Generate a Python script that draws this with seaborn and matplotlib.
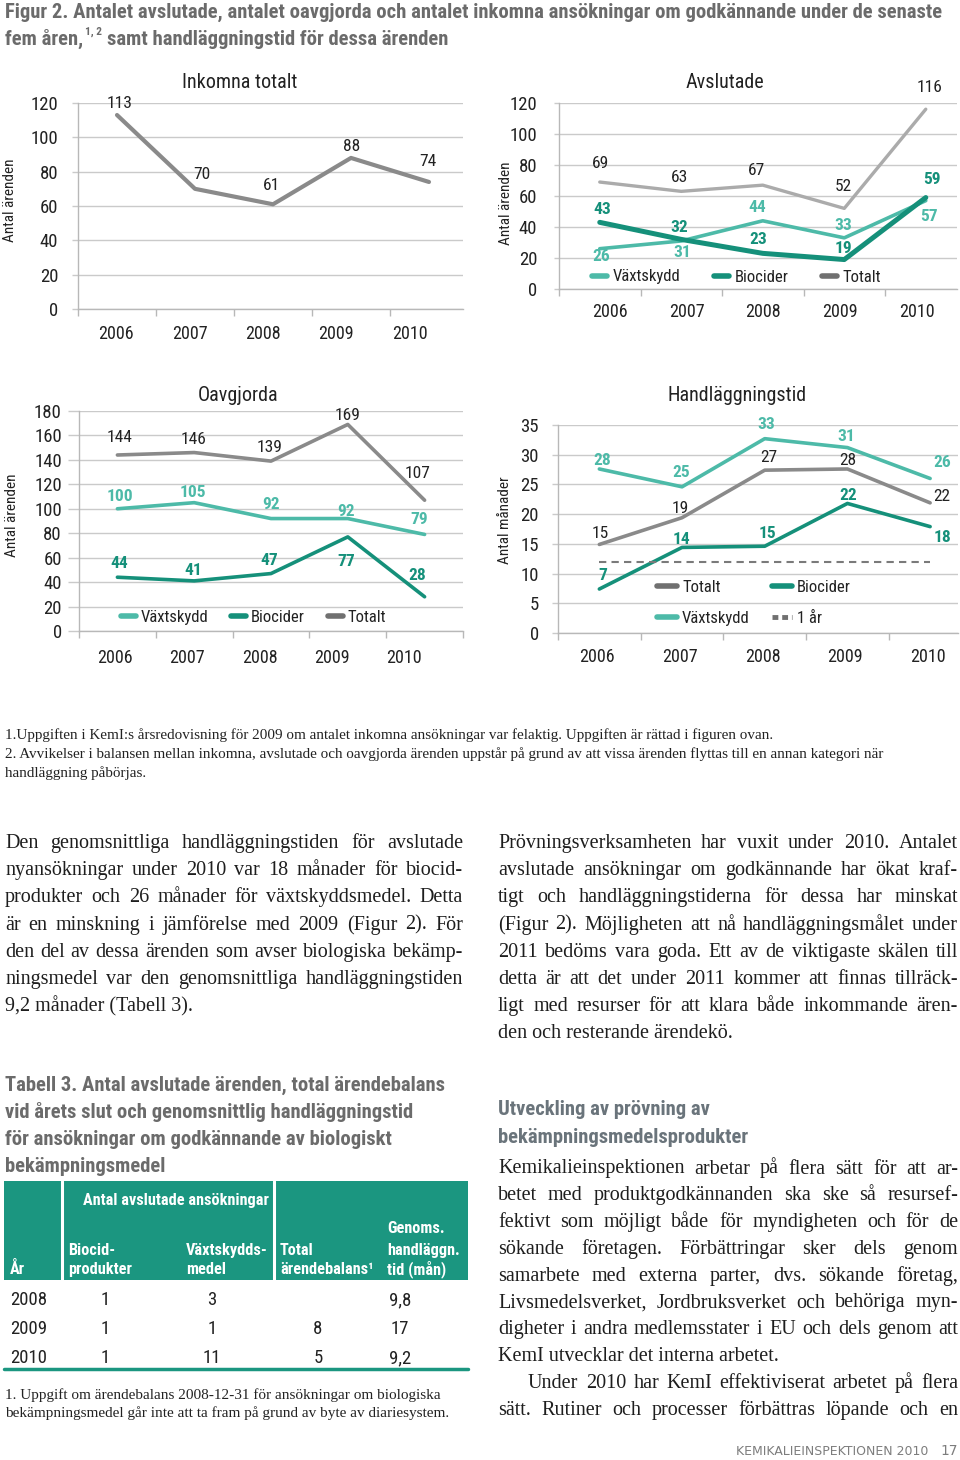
import numpy as np
import pandas as pd
import seaborn as sns
import matplotlib
matplotlib.use("Agg")
import matplotlib.pyplot as plt
import matplotlib.font_manager as fm
from matplotlib.lines import Line2D
from matplotlib.patches import Rectangle

# ---- data ----
years = [2006, 2007, 2008, 2009, 2010]

inkomna_totalt = [113, 70, 61, 88, 74]

avslutade_vaxtskydd = [26, 31, 44, 33, 57]
avslutade_biocider = [43, 32, 23, 19, 59]
avslutade_totalt = [69, 63, 67, 52, 116]

oavgjorda_vaxtskydd = [100, 105, 92, 92, 79]
oavgjorda_biocider = [44, 41, 47, 77, 28]
oavgjorda_totalt = [144, 146, 139, 169, 107]

tid_vaxtskydd = [27.6, 24.6, 32.7, 31.2, 26.0]
tid_totalt = [14.9, 19.4, 27.4, 27.6, 21.9]
tid_biocider = [7.4, 14.4, 14.6, 21.8, 17.9]
tid_ett_ar = 12

tab_years = ["2008", "2009", "2010"]
tab_biocid = ["1", "1", "1"]
tab_vaxt = ["3", "1", "11"]
tab_balans = ["", "8", "5"]
tab_tid = ["9,8", "17", "9,2"]

# ---- style ----
LIGHT = "#4dbaa8"
DARK = "#15907a"
GREY = "#8a8a8a"
GREY_LIGHT = "#ababab"
GREY_KEY = "#707070"
GRID = "#cacaca"
AXIS = "#b8b8b8"
TXT = "#222222"
HEAD = "#6b6b6b"
GREEN = "#1b9680"

sns.set_theme(style="white")

# pick a narrow sans if one is installed (the page uses a condensed grotesque)
names = {f.name for f in fm.fontManager.ttflist}
prefer = ["Liberation Sans Narrow", "Roboto Condensed", "Noto Sans Condensed",
          "Open Sans Condensed", "DejaVu Sans Condensed", "Noto Sans SemiCondensed",
          "Open Sans SemiCondensed"]
narrow = next((n for n in prefer if n in names), None)
if narrow is None:
    narrow = next((n for n in sorted(names)
                   if ("Condensed" in n or "Narrow" in n) and "Mono" not in n), "DejaVu Sans")
COND = [narrow, "DejaVu Sans"]
SERIF = ["Liberation Serif", "DejaVu Serif"]
plt.rcParams["font.family"] = COND
plt.rcParams["font.stretch"] = "condensed"

W, H = 960, 1460
fig = plt.figure(figsize=(W / 100, H / 100), dpi=100)
renderer = fig.canvas.get_renderer()


def fx(x):
    return x / W


def fy(y):
    return 1 - y / H


def measure(s, **kw):
    t = fig.text(0, 0, s, **kw)
    w = t.get_window_extent(renderer).width
    t.remove()
    return w


def fit(line, width, base, **kw):
    return base * width / measure(line, fontsize=base, **kw)


def chart(rect, xmax, ymax, ystep, ypad, ytick_len, year_start, year_step, year_pad):
    l, t, r, b = rect
    ax = fig.add_axes([fx(l), fy(b), (r - l) / W, (b - t) / H])
    ax.set_xlim(-0.5, xmax)
    ax.set_ylim(0, ymax)
    ax.set_yticks(range(0, ymax + 1, ystep))
    ax.yaxis.grid(True, color=GRID, lw=1)
    ax.set_axisbelow(True)
    sns.despine(ax=ax)
    for s in ("left", "bottom"):
        ax.spines[s].set_color(AXIS)
        ax.spines[s].set_linewidth(1)
    ax.set_xticks(np.arange(-0.5, xmax + 0.01, 1.0))
    ax.set_xticklabels([])
    ax.set_xticks([year_start + i * year_step for i in range(len(years))], minor=True)
    ax.set_xticklabels([str(y) for y in years], minor=True)
    ax.tick_params(axis="x", which="major", length=5, width=1, color=AXIS, bottom=True)
    ax.tick_params(axis="x", which="minor", length=0, pad=year_pad, labelsize=13, labelcolor=TXT)
    ax.tick_params(axis="y", length=ytick_len, width=1, color=GRID, pad=ypad,
                   labelsize=13.5, labelcolor=TXT, left=True)
    return ax


def series(ax, values, color, lw, offsets, lab_color, bold):
    df = pd.DataFrame({"x": range(len(values)), "y": values})
    sns.lineplot(data=df, x="x", y="y", ax=ax, color=color, lw=lw)
    for i, (v, (dx, dy)) in enumerate(zip(values, offsets)):
        ax.annotate(f"{round(v)}", (i, v), xytext=(dx, dy), textcoords="offset pixels",
                    ha="center", va="center", fontsize=12.5, color=lab_color,
                    fontweight="bold" if bold else "normal")
    ax.set_xlabel("")
    ax.set_ylabel("")


def legend(ax, entries, x, y, ncol, colsp, hlen, tpad, lsp=0.5):
    handles = []
    for c, ls in [(e[0], e[1]) for e in entries]:
        h = Line2D([], [], color=c, lw=4, solid_capstyle="round", dash_capstyle="butt")
        if ls == "dash":
            h.set_dashes((1.2, 0.8))
            h.set_linewidth(3.5)
        handles.append(h)
    ax.legend(handles, [e[2] for e in entries], loc="center left",
              bbox_to_anchor=(fx(x), fy(y)), bbox_transform=fig.transFigure,
              ncol=ncol, frameon=False, fontsize=12, columnspacing=colsp,
              handlelength=hlen, handletextpad=tpad, borderpad=0, borderaxespad=0,
              labelspacing=lsp, labelcolor=TXT)


def caption(x, y, s, rot=0, **kw):
    fig.text(fx(x), fy(y), s, ha="center", va="center", color=TXT, rotation=rot, **kw)


# ---- chart 1: Inkomna totalt ----
ax1 = chart((78, 103, 463, 309), 4.436, 120, 20, 10, 4.3, -0.01, 0.94, 11.5)
series(ax1, inkomna_totalt, GREY, 3.0,
       [(3, 12), (7, 14), (-1, 19), (1, 11), (-1, 20)], TXT, False)
caption(240, 82, "Inkomna totalt", fontsize=14.5)
caption(10, 200, "Antal ärenden", rot=90, fontsize=11)

# ---- chart 2: Avslutade ----
ax2 = chart((559, 103, 957, 289), 4.383, 120, 20, 12, 3.6, 0.126, 0.941, 10)
series(ax2, avslutade_totalt, GREY_LIGHT, 2.4,
       [(1, 19), (-2, 14), (-6, 15), (-1, 22), (4, 22)], TXT, False)
series(ax2, avslutade_vaxtskydd, LIGHT, 2.6,
       [(1, -8), (1, -12), (-6, 13), (-1, 12), (3, -16)], LIGHT, True)
series(ax2, avslutade_biocider, DARK, 3.6,
       [(2, 13), (-2, 12), (-5, 14), (-1, 11), (6, 18)], DARK, True)
caption(725, 82, "Avslutade", fontsize=14.5)
caption(506, 203, "Antal ärenden", rot=90, fontsize=11)
legend(ax2, [(LIGHT, "-", "Växtskydd"), (DARK, "-", "Biocider"), (GREY_KEY, "-", "Totalt")],
       592, 277, 3, 2.0, 0.9, 0.35)

# ---- chart 3: Oavgjorda ----
ax3 = chart((79, 411, 463, 631), 4.5, 180, 20, 4.3, 8, -0.03, 0.941, 13)
series(ax3, oavgjorda_totalt, GREY, 2.6,
       [(2, 17), (-1, 13), (-1, 14), (0, 9), (-7, 27)], TXT, False)
series(ax3, oavgjorda_vaxtskydd, LIGHT, 2.6,
       [(3, 12), (-1, 10), (0, 14), (-2, 7), (-5, 15)], LIGHT, True)
series(ax3, oavgjorda_biocider, DARK, 2.6,
       [(2, 14), (-1, 10), (-2, 13), (-2, -25), (-7, 21)], DARK, True)
caption(238, 395, "Oavgjorda", fontsize=14.5)
caption(12, 515, "Antal ärenden", rot=90, fontsize=11)
legend(ax3, [(LIGHT, "-", "Växtskydd"), (DARK, "-", "Biocider"), (GREY_KEY, "-", "Totalt")],
       121, 617, 3, 1.35, 0.9, 0.3)

# ---- chart 4: Handläggningstid ----
ax4 = chart((558, 425, 958, 633), 4.337, 35, 5, 9.4, 4.3, -0.025, 1.0, 11)
series(ax4, tid_vaxtskydd, LIGHT, 2.6,
       [(3, 8), (-1, 14), (2, 14), (-1, 11), (12, 16)], LIGHT, True)
series(ax4, tid_totalt, GREY, 2.6,
       [(1, 11), (-2, 9), (4, 13), (0, 8), (12, 6)], TXT, False)
series(ax4, tid_biocider, DARK, 2.6,
       [(3, 14), (-1, 8), (3, 13), (1, 8), (12, -11)], DARK, True)
sns.lineplot(x=range(len(years)), y=[tid_ett_ar] * len(years), ax=ax4, color="#7a7a7a", lw=1.5)
ax4.lines[-1].set_dashes((3.5, 2.5))
caption(737, 395, "Handläggningstid", fontsize=14.5)
caption(505, 520, "Antal månader", rot=90, fontsize=11)
legend(ax4, [(GREY_KEY, "-", "Totalt"), (LIGHT, "-", "Växtskydd"),
             (DARK, "-", "Biocider"), (GREY_KEY, "dash", "1 år")],
       657, 603, 2, 1.35, 1.2, 0.3, lsp=1.0)

# ---- figure heading ----
tkw = dict(family=COND, fontweight="bold", color=HEAD, va="baseline")
t1 = "Figur 2. Antalet avslutade, antalet oavgjorda och antalet inkomna ansökningar om godkännande under de senaste"
ts = min(fit(t1, 946, 14, **tkw), 17)
fig.text(fx(5), fy(18), t1, fontsize=ts, **tkw)
part = "fem åren,"
fig.text(fx(5), fy(45), part, fontsize=ts, **tkw)
x = 5 + measure(part, fontsize=ts, **tkw) + 2
fig.text(fx(x), fy(35), "1, 2", fontsize=ts * 0.55, **tkw)
x += measure("1, 2", fontsize=ts * 0.55, **tkw) + 5
fig.text(fx(x), fy(45), "samt handläggningstid för dessa ärenden", fontsize=ts, **tkw)

# ---- chart footnotes ----
nkw = dict(family=SERIF, fontstretch="normal", color=TXT, va="baseline")
n2 = ("2. Avvikelser i balansen mellan inkomna, avslutade och oavgjorda ärenden uppstår "
      "på grund av att vissa ärenden flyttas till en annan kategori när")
ns = fit(n2, 881, 10, **nkw)
fig.text(fx(5), fy(739), "1.Uppgiften i KemI:s årsredovisning för 2009 om antalet inkomna "
         "ansökningar var felaktig. Uppgiften är rättad i figuren ovan.", fontsize=ns, **nkw)
fig.text(fx(5), fy(758), n2, fontsize=ns, **nkw)
fig.text(fx(5), fy(777), "handläggning påbörjas.", fontsize=ns, **nkw)

# ---- body text ----
left_col = [
    "Den genomsnittliga handläggningstiden för avslutade",
    "nyansökningar under 2010 var 18 månader för biocid-",
    "produkter och 26 månader för växtskyddsmedel. Detta",
    "är en minskning i jämförelse med 2009 (Figur 2). För",
    "den del av dessa ärenden som avser biologiska bekämp-",
    "ningsmedel var den genomsnittliga handläggningstiden",
    "9,2 månader (Tabell 3).",
]
right_col = [
    "Prövningsverksamheten har vuxit under 2010. Antalet",
    "avslutade ansökningar om godkännande har ökat kraf-",
    "tigt och handläggningstiderna för dessa har minskat",
    "(Figur 2). Möjligheten att nå handläggningsmålet under",
    "2011 bedöms vara goda. Ett av de viktigaste skälen till",
    "detta är att det under 2011 kommer att finnas tillräck-",
    "ligt med resurser för att klara både inkommande ären-",
    "den och resterande ärendekö.",
]
right_low = [
    "Kemikalieinspektionen arbetar på flera sätt för att ar-",
    "betet med produktgodkännanden ska ske så resursef-",
    "fektivt som möjligt både för myndigheten och för de",
    "sökande företagen. Förbättringar sker dels genom",
    "samarbete med externa parter, dvs. sökande företag,",
    "Livsmedelsverket, Jordbruksverket och behöriga myn-",
    "digheter i andra medlemsstater i EU och dels genom att",
    "KemI utvecklar det interna arbetet.",
    "Under 2010 har KemI effektiviserat arbetet på flera",
    "sätt. Rutiner och processer förbättras löpande och en",
]

bkw = dict(family=SERIF, fontstretch="normal", color="#1e1e1e", va="baseline")
bs = min(fit(s, 455, 14, **bkw) for s in left_col[:-1] + right_col[:-1] + right_low[:7])
bs = min(bs, fit(right_low[8], 425, 14, **bkw), 14.5)


def body(lines, x0, x1, base0, step, last=(), indent=None):
    indent = indent or {}
    for k, line in enumerate(lines):
        y = fy(base0 + k * step)
        xs = x0 + indent.get(k, 0)
        if k in last:
            fig.text(fx(xs), y, line, fontsize=bs, **bkw)
            continue
        words = line.split(" ")
        ws = [measure(w, fontsize=bs, **bkw) for w in words]
        gap = (x1 - xs - sum(ws)) / (len(words) - 1)
        xx = xs
        for w, wd in zip(words, ws):
            fig.text(fx(xx), y, w, fontsize=bs, **bkw)
            xx += wd + gap


body(left_col, 5, 463, 848, 27.2, last=(6,))
body(right_col, 498, 958, 848, 27.2, last=(7,))
body(right_low, 498, 958, 1173.5, 26.8, last=(7,), indent={8: 30})

hkw = dict(family=COND, fontweight="bold", color="#6a747b", va="baseline")
hs = min(fit("Utveckling av prövning av", 212, 15, **hkw), 17)
fig.text(fx(498), fy(1115), "Utveckling av prövning av", fontsize=hs, **hkw)
fig.text(fx(498), fy(1143), "bekämpningsmedelsprodukter", fontsize=hs, **hkw)

# ---- table 3 ----
tab_title = [
    "Tabell 3. Antal avslutade ärenden, total ärendebalans",
    "vid årets slut och genomsnittlig handläggningstid",
    "för ansökningar om godkännande av biologiskt",
    "bekämpningsmedel",
]
tts = min(fit(tab_title[0], 440, 15, **tkw), 17)
for k, s in enumerate(tab_title):
    fig.text(fx(5), fy(1090.5 + k * 27.2), s, fontsize=tts, **tkw)

fig.add_artist(Rectangle((fx(4), fy(1280)), 464 / W, 99 / H, transform=fig.transFigure,
                         color=GREEN, lw=0))
for xv in (62, 274):
    fig.add_artist(Line2D([fx(xv), fx(xv)], [fy(1181), fy(1280)], color="white", lw=2.2,
                          transform=fig.transFigure))
fig.add_artist(Line2D([fx(4), fx(468)], [fy(1369), fy(1369)], color=GREEN, lw=2.5,
                      transform=fig.transFigure))

thk = dict(family=COND, fontweight="bold", color="white", va="baseline")
hsz = min(12.5, fit("Växtskydds-", 86, 12, **thk), fit("handläggn.", 78, 12, **thk),
          fit("ärendebalans¹", 104, 12, **thk),
          fit("Antal avslutade ansökningar", 185, 12, **thk))
fig.text(fx(83), fy(1205), "Antal avslutade ansökningar", fontsize=hsz, **thk)
fig.text(fx(387), fy(1233), "Genoms.", fontsize=hsz, **thk)
for xv, s in [(68, "Biocid-"), (186, "Växtskydds-"), (280, "Total"), (387, "handläggn.")]:
    fig.text(fx(xv), fy(1255), s, fontsize=hsz, **thk)
for xv, s in [(10, "År"), (68, "produkter"), (186, "medel"), (280, "ärendebalans¹"),
              (387, "tid (mån)")]:
    fig.text(fx(xv), fy(1274), s, fontsize=hsz, **thk)

rkw = dict(family=COND, color=TXT, fontsize=13.5, va="baseline")
for k in range(len(tab_years)):
    y = fy(1305 + k * 29.2)
    fig.text(fx(10), y, tab_years[k], **rkw)
    fig.text(fx(105), y, tab_biocid[k], ha="center", **rkw)
    fig.text(fx(212), y, tab_vaxt[k], ha="center", **rkw)
    fig.text(fx(318), y, tab_balans[k], ha="center", **rkw)
    fig.text(fx(400), y, tab_tid[k], ha="center", **rkw)

f2 = "bekämpningsmedel går inte att ta fram på grund av byte av diariesystem."
fs = fit(f2, 444, 10, **nkw)
fig.text(fx(5), fy(1398.5), "1. Uppgift om ärendebalans 2008-12-31 för ansökningar om biologiska",
         fontsize=fs, **nkw)
fig.text(fx(5), fy(1417), f2, fontsize=fs, **nkw)

# ---- page footer ----
fkw = dict(family=["DejaVu Sans"], fontstretch="normal", color="#7d7d7d", va="baseline")
ff = fit("KEMIKALIEINSPEKTIONEN 2010", 193, 8, **fkw)
fig.text(fx(928), fy(1455), "KEMIKALIEINSPEKTIONEN 2010", ha="right", fontsize=ff, **fkw)
fig.text(fx(958), fy(1455), "17", ha="right", fontsize=ff * 1.1, **fkw)

fig.savefig("out.png", dpi=100)
